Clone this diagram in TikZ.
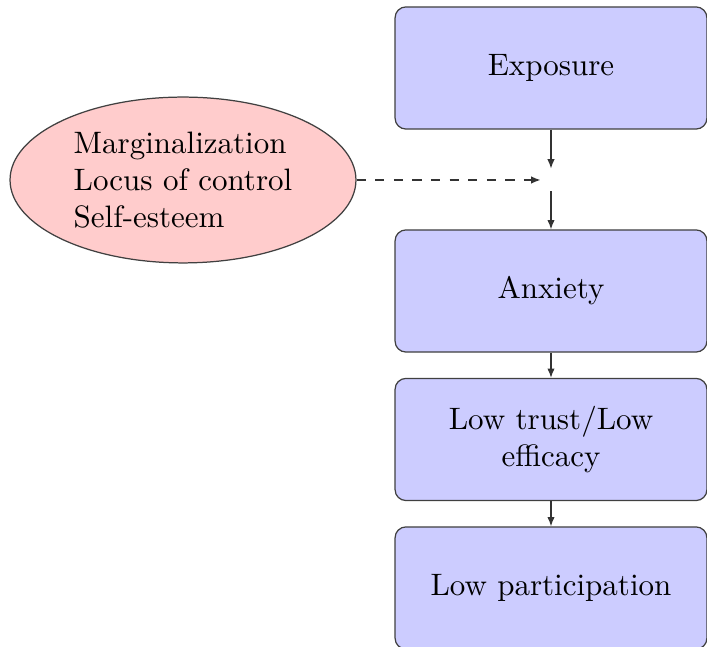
\documentclass[tikz,border=0pt]{standalone}
\usetikzlibrary{shapes.geometric,arrows.meta}
\begin{document}
\begin{tikzpicture}[x=0.3226pt,y=-0.3226pt,
  blockbox/.style={rectangle, rounded corners=3.5pt, draw=black!75, fill=blue!20,
    minimum width=100.6pt, minimum height=39.4pt, text width=80pt, align=center, inner sep=0pt},
  cloudbox/.style={ellipse, draw=black!75, fill=red!20, minimum width=111.6pt,
    minimum height=53.5pt, align=left, inner sep=0pt},
  arr/.style={draw=black!80, -{Latex[length=3pt,width=2.4pt]}},
  darr/.style={draw=black!80, dashed, -{Latex[length=3pt,width=2.4pt]}}]
\useasboundingbox (0,0) rectangle (707,647);
\node[blockbox] (exp) at (551,68) {Exposure};
\node[blockbox] (anx) at (551,291) {Anxiety};
\node[blockbox] (trust) at (551,439.5) {Low trust/Low efficacy};
\node[blockbox] (part) at (551,588) {Low participation};
\node[inner sep=0pt, minimum width=6.4pt, minimum height=7pt] (mid) at (551,180) {};
\node[cloudbox] (ell) at (183,180) {Marginalization\\Locus of control\\Self-esteem};
\draw[arr] (exp) -- (mid);
\draw[arr] (mid) -- (anx);
\draw[arr] (anx) -- (trust);
\draw[arr] (trust) -- (part);
\draw[darr] (ell) -- (mid);
\end{tikzpicture}
\end{document}
